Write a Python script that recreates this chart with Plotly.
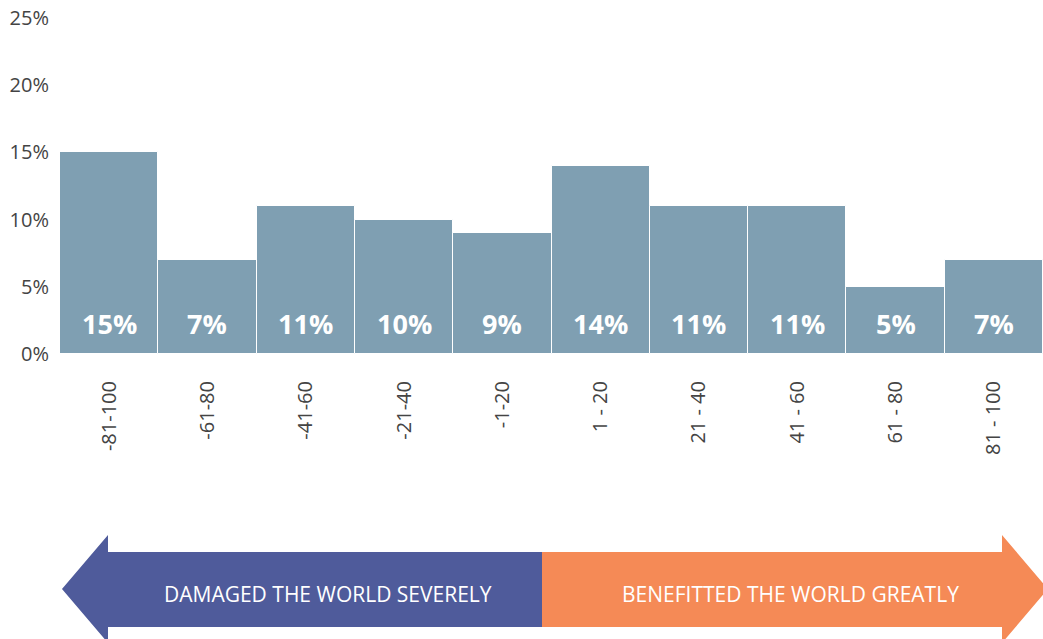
import plotly.graph_objects as go

categories = ["-81-100", "-61-80", "-41-60", "-21-40", "-1-20",
              "1 - 20", "21 - 40", "41 - 60", "61 - 80", "81 - 100"]
shares = [15, 7, 11, 10, 9, 14, 11, 11, 5, 7]
y_ticks = [0, 5, 10, 15, 20, 25]
left_label = "DAMAGED THE WORLD SEVERELY"
right_label = "BENEFITTED THE WORLD GREATLY"

W, H = 1043, 639
L, R, T, B = 60, 0, 18, 285
PW, PH = W - L - R, H - T - B

BAR = "#7f9fb2"
BLUE = "#4f5b9b"
ORANGE = "#f58a56"
FONT = "Open Sans"


def px(x):
    return (x - L) / PW


def py(y):
    return (H - B - y) / PH


def path(points):
    return "M " + " L ".join(f"{px(x):.5f},{py(y):.5f}" for x, y in points) + " Z"


fig = go.Figure(
    go.Bar(
        x=categories,
        y=shares,
        marker={"color": BAR, "line": {"color": "white", "width": 1}},
        hoverinfo="skip",
    )
)

for cat, val in zip(categories, shares):
    fig.add_annotation(
        x=cat, y=0, xref="x", yref="y", yanchor="bottom", yshift=10,
        text=f"<b>{val}%</b>", showarrow=False,
        font={"family": FONT, "size": 27, "color": "white"},
    )

# arrow along the bottom
fig.add_shape(type="path", xref="paper", yref="paper", line_width=0, fillcolor=BLUE,
              path=path([(62, 589), (108, 535), (108, 552), (542, 552),
                         (542, 627), (108, 627), (108, 643)]))
fig.add_shape(type="path", xref="paper", yref="paper", line_width=0, fillcolor=ORANGE,
              path=path([(542, 552), (1002, 552), (1002, 535), (1048, 589),
                         (1002, 643), (1002, 627), (542, 627)]))
fig.add_annotation(x=px(328), y=py(594), xref="paper", yref="paper", showarrow=False,
                   xanchor="center", yanchor="middle",
                   text=left_label, font={"family": FONT, "size": 21, "color": "white"})
fig.add_annotation(x=px(790), y=py(594), xref="paper", yref="paper", showarrow=False,
                   xanchor="center", yanchor="middle",
                   text=right_label, font={"family": FONT, "size": 21, "color": "white"})

fig.update_layout(
    width=W, height=H,
    margin={"l": L, "r": R, "t": T, "b": B, "autoexpand": False},
    bargap=0,
    plot_bgcolor="white", paper_bgcolor="white",
    showlegend=False,
    font={"family": FONT, "color": "#444444"},
    xaxis={
        "tickangle": -90,
        "tickfont": {"size": 20, "color": "#444444"},
        "showgrid": False, "zeroline": False, "showline": False,
        "ticks": "", "ticklabelstandoff": 22,
    },
    yaxis={
        "range": [0, 25],
        "tickvals": y_ticks,
        "ticktext": [f"{v}%" for v in y_ticks],
        "tickfont": {"size": 20, "color": "#444444"},
        "showgrid": False, "zeroline": False, "showline": False,
        "ticks": "", "ticklabelstandoff": 10,
    },
)

fig.write_html("out.html", config={"displayModeBar": False},
               post_script="document.body.style.margin = '0';")
